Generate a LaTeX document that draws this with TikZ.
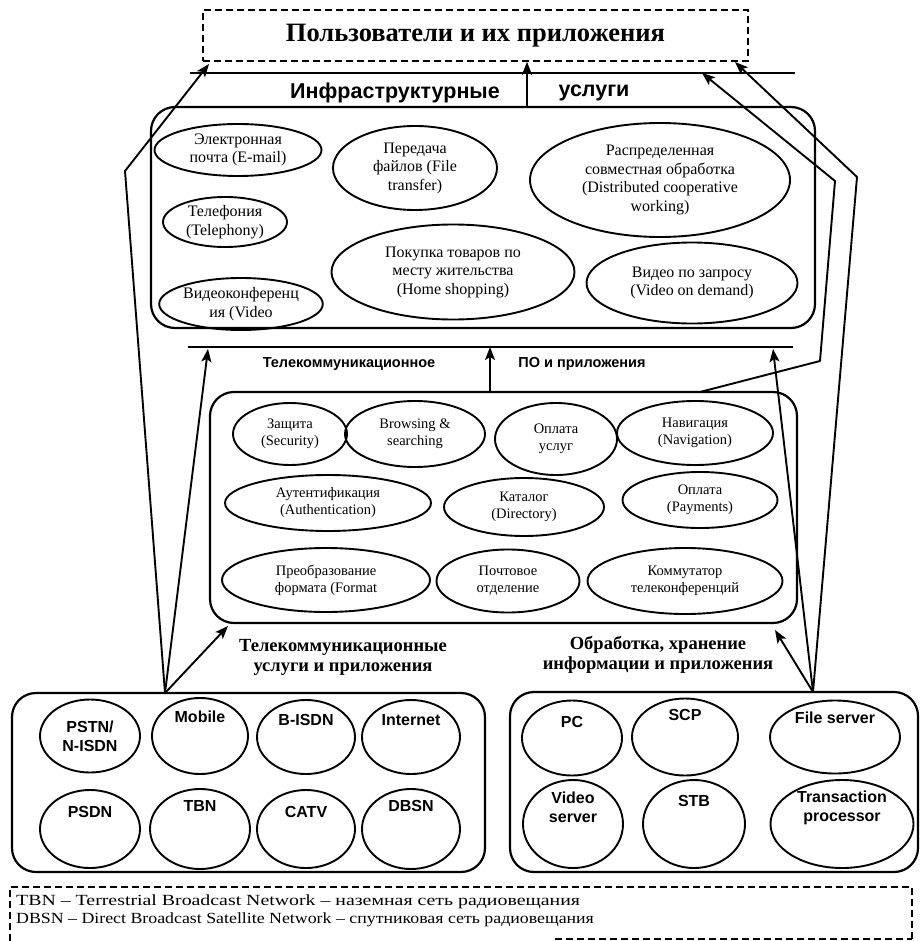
\documentclass[tikz,border=0pt]{standalone}
\usepackage{fontspec}
\setmainfont{Liberation Serif}
\newfontfamily\sansfam{Liberation Sans}
\usetikzlibrary{arrows.meta,shapes.geometric}

% text raised inside an oval without changing the oval's size
\newcommand{\lifted}[2]{\raisebox{#1}[0pt][0pt]{#2}}
% two centred lines kept as one box
\newcommand{\twoline}[2]{\begin{tabular}{@{}c@{}}#1\\#2\end{tabular}}

\tikzset{
  frame/.style={draw, line width=2.2pt, rounded corners=24pt, inner sep=0pt},
  dashframe/.style={draw, line width=1.6pt, dash pattern=on 7pt off 4pt},
  ell/.style={draw, ellipse, line width=1.9pt, inner sep=0pt, align=center},
  oval/.style 2 args={ell, minimum width=#1, minimum height=#2},
  fa/.style={font=\fontsize{16}{18.5}\selectfont},
  fb/.style={font=\fontsize{14.5}{17}\selectfont},
  fnet/.style={font=\sansfam\bfseries\fontsize{16}{19}\selectfont},
  conn/.style={draw, line width=1.9pt, line join=round},
  arr/.style={conn, -{Stealth[length=13pt,width=10pt,inset=3pt]}},
  rule/.style={draw, line width=2.2pt},
  slabel/.style={font=\sansfam\bfseries\fontsize{#1}{#1}\selectfont, inner sep=0pt},
  blabel/.style={font=\bfseries\fontsize{18.5}{20}\selectfont, align=center, inner sep=0pt},
  legendline/.style={anchor=west, inner sep=0pt, font=\fontsize{15.5}{17}\selectfont},
}

\begin{document}
\begin{tikzpicture}[x=1pt, y=-1pt]
\useasboundingbox (0,0) rectangle (921,941);

% ---------- users ----------
\node[dashframe, minimum width=545, minimum height=51, inner sep=0pt,
      font=\bfseries\fontsize{26.5}{29}\selectfont] (users) at (475.5,35.5)
      {Пользователи и их приложения};

% ---------- horizontal rules ----------
\coordinate (l1w) at (190,73);  \coordinate (l1e) at (795,73);
\coordinate (l2w) at (188,347); \coordinate (l2e) at (793,347);
\draw[rule] (l1w) -- (l1e);
\draw[rule] (l2w) -- (l2e);

\node[slabel=21.5] (infl) at (395,93) {Инфраструктурные};
\node[slabel=21.5] (infr) at (594,93) {услуги};
\node[slabel=14.5] (swl) at (349,364) {Телекоммуникационное};
\node[slabel=14.5] (swr) at (582,364) {ПО и приложения};

% ---------- infrastructure services ----------
\node[frame, minimum width=664, minimum height=221] (infra) at (483,217.5) {};
\node[oval={167}{52}, fa]  (email) at (238,150) {Электронная\\почта (E-mail)};
\node[oval={164}{84}, fa]  (file)  at (415,168) {Передача\\файлов (File\\transfer)};
\node[oval={260}{114}, fa] (dist)  at (660,180) {Распределенная\\совместная обработка\\(Distributed cooperative\\working)};
\node[oval={124}{50}, fa]  (phone) at (225,222) {Телефония\\(Telephony)};
\node[oval={243}{95}, fa]  (shop)  at (453,272) {Покупка товаров по\\месту жительства\\(Home shopping)};
\node[oval={158}{52}, fa]  (vconf) at (241,304) {Видеоконференц\\ия (Video};
\node[oval={211}{81}, fa]  (vod)   at (692,283) {Видео по запросу\\(Video on demand)};

% ---------- telecom software ----------
\node[frame, minimum width=587, minimum height=231] (tele) at (503.5,507.5) {};
\node[oval={114}{62}, fb]  (sec)  at (290,434) {Защита\\(Security)};
\node[oval={140}{66}, fb]  (brow) at (415,434) {Browsing \&\\searching};
\node[oval={122}{72}, fb]  (payu) at (556,439) {Оплата\\услуг};
\node[oval={156}{64}, fb]  (nav)  at (695,433) {Навигация\\(Navigation)};
\node[oval={206}{56}, fb]  (auth) at (328,503) {Аутентификация\\(Authentication)};
\node[oval={160}{58}, fb]  (dir)  at (524,507) {Каталог\\(Directory)};
\node[oval={155}{56}, fb]  (pay)  at (700,500) {Оплата\\(Payments)};
\node[oval={208}{64}, fb]  (fmt)  at (326,580) {Преобразование\\формата (Format};
\node[oval={143}{63}, fb]  (post) at (508,581) {Почтовое\\отделение};
\node[oval={195}{66}, fb]  (conf) at (685,581) {Коммутатор\\телеконференций};

\node[blabel] (tsl) at (343,657) {Телекоммуникационные\\услуги и приложения};
\node[blabel] (psl) at (658,655) {Обработка, хранение\\информации и приложения};

% ---------- networks ----------
\node[frame, minimum width=473, minimum height=179] (nets) at (248.5,782.5) {};
\node[oval={100}{73}, fnet] (pstn)  at (90,736)  {PSTN/\\N-ISDN};
\node[oval={96}{76},  fnet] (mob)   at (200,736) {\lifted{14pt}{Mobile}};
\node[oval={98}{74},  fnet] (bisdn) at (306,737) {\lifted{12pt}{B-ISDN}};
\node[oval={98}{74},  fnet] (inet)  at (411,737) {\lifted{12pt}{Internet}};
\node[oval={100}{78}, fnet] (psdn)  at (90,829)  {\lifted{12pt}{PSDN}};
\node[oval={100}{80}, fnet] (tbn)   at (200,829) {\lifted{18pt}{TBN}};
\node[oval={98}{78},  fnet] (catv)  at (306,829) {\lifted{12pt}{CATV}};
\node[oval={98}{80},  fnet] (dbsn)  at (411,829) {\lifted{18pt}{DBSN}};

% ---------- processing and storage ----------
\node[frame, minimum width=408, minimum height=180] (proc) at (714,782) {};
\node[oval={100}{75},  fnet] (pc)   at (572,738) {\lifted{11pt}{PC}};
\node[oval={106}{77},  fnet] (scp)  at (685,737) {\lifted{17pt}{SCP}};
\node[oval={130}{73},  fnet] (fsrv) at (835,737) {\lifted{14pt}{File server}};
\node[oval={100}{88},  fnet] (vsrv) at (573,824) {\lifted{10pt}{\twoline{Video}{server}}};
\node[oval={102}{88},  fnet] (stb)  at (694,824) {\lifted{18pt}{STB}};
\node[oval={143}{88},  fnet] (tp)   at (842,824) {\lifted{11pt}{\twoline{Transaction}{processor}}};

% ---------- legend ----------
\draw[dashframe] (10,941) -- (10,887) -- (912,887) -- (912,941);
\draw[dashframe] (555,939) -- (912,939);
\node[legendline] (lg1) at (16,902)
  {\scalebox{1.28}[1]{TBN – Terrestrial Broadcast Network – наземная сеть радиовещания}};
\node[legendline] (lg2) at (16,920)
  {\scalebox{1.15}[1]{DBSN – Direct Broadcast Satellite Network – спутниковая сеть радиовещания}};

% ---------- connectors ----------
\coordinate (a1) at (527,0);
\coordinate (a2) at (490,0);
\draw[arr] (infra.north -| a1) -- (users.south -| a1);
\draw[arr] (tele.north -| a2) -- (l2w -| a2);

% from the networks
\coordinate (M)  at (165,693);
\coordinate (K1) at (125,171);
\coordinate (tL1) at (209,64);
\coordinate (tL2) at (208,349);
\coordinate (tL3) at (228,626);
\draw[arr] (M) -- (K1) -- (tL1);
\draw[arr] (M) -- (tL2);
\draw[arr] (M) -- (tL3);

% from processing and storage
\coordinate (F)  at (813,692);
\coordinate (K2) at (857,177);
\coordinate (tR1) at (735,62);
\coordinate (tR2) at (773,349);
\coordinate (tR3) at (775,630);
\draw[arr] (F) -- (K2) -- (tR1);
\draw[arr] (F) -- (tR2);
\draw[arr] (F) -- (tR3);

% from the telecom software block
\coordinate (A0) at (700,392);
\coordinate (A1) at (820,361);
\coordinate (A2) at (835,181);
\coordinate (tA) at (702,73);
\draw[arr] (A0) -- (A1) -- (A2) -- (tA);
\end{tikzpicture}
\end{document}
